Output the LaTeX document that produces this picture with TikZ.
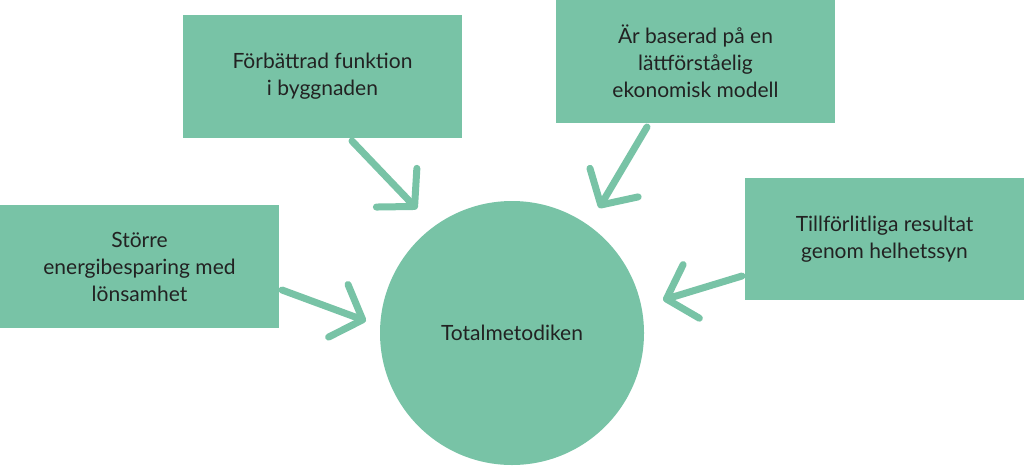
\documentclass[tikz,border=0pt]{standalone}
\usepackage{fontspec}
\setmainfont{Lato}
\usetikzlibrary{arrows.meta}
\definecolor{gr}{HTML}{78C3A6}
\definecolor{tx}{HTML}{222222}
\begin{document}
\begin{tikzpicture}[x=1pt,y=-1pt,
  box/.style={fill=gr,inner sep=0pt,align=center,text=tx,font=\fontsize{21}{27}\selectfont},
  arr/.style={draw=gr,line width=7pt,line cap=round,-{Straight Barb[length=26pt,width=56pt,line cap=round,round]}}]
\useasboundingbox (0,0) rectangle (1024,466);
\node[circle,fill=gr,minimum size=264pt,inner sep=0pt,text=tx,font=\fontsize{21}{27}\selectfont] (c) at (512,333) {Totalmetodiken};
\node[box,minimum width=279pt,minimum height=123pt] (a) at (322.5,76.5) {Förbättrad funktion\\i byggnaden};
\node[box,minimum width=279pt,minimum height=123pt] (b) at (695.5,61.5) {Är baserad på en\\lättförståelig\\ekonomisk modell};
\node[box,minimum width=279pt,minimum height=123pt] (l) at (139.5,266.5) {Större\\energibesparing med\\lönsamhet};
\node[box,minimum width=279pt,minimum height=122pt] (r) at (884.5,239) {Tillförlitliga resultat\\genom helhetssyn};
\coordinate (ta) at (417,209);
\coordinate (tb) at (599,208);
\coordinate (tl) at (366,321);
\coordinate (tr) at (663,300);
\draw[arr] (352,141) -- (ta);
\draw[arr] (647,127) -- (tb);
\draw[arr] (282,290) -- (tl);
\draw[arr] (742,276) -- (tr);
\end{tikzpicture}
\end{document}
